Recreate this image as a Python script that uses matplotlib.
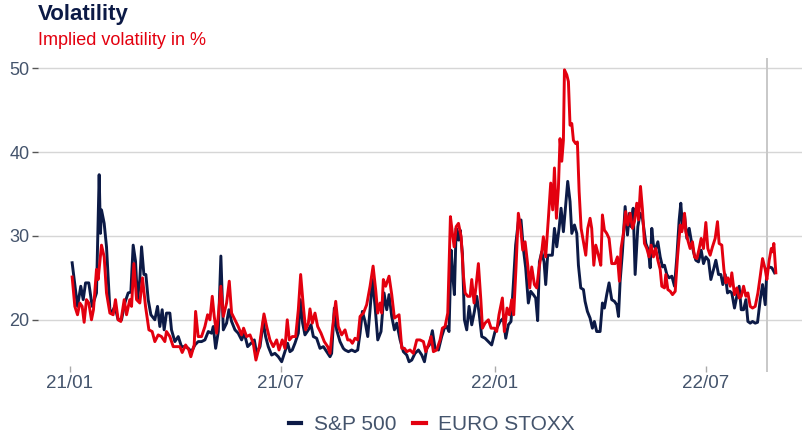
import numpy as np
import pandas as pd
import matplotlib
matplotlib.use("Agg")
import matplotlib.pyplot as plt
import matplotlib.dates as mdates

plt.rcParams['font.family'] = ['Liberation Sans', 'DejaVu Sans']

# days after 2021-01-01 and implied volatility (%)
sp_days = [2.0, 6.6, 9.4, 11.5, 13.5, 16.3, 19.2, 22.9, 25.2, 26.3, 27.2, 29.5, 31.5, 34.4, 35.8, 38.7, 41.5, 44.4,
           47.2, 50.1, 52.4, 54.4, 56.4, 58.1, 60.1, 61.6, 63.6, 65.3, 67.3, 69.6, 73.0, 75.3, 77.3, 79.3, 81.0, 83.0,
           85.9, 87.3, 90.2, 93.1, 95.9, 98.8, 101.7, 104.5, 107.4, 110.2, 113.1,
           116.0, 118.9, 121.7, 123.2, 125.2, 127.5, 129.7, 131.8, 134.6, 136.6, 138.9, 141.8, 144.6, 147.5, 149.8,
           152.7, 155.5, 158.4, 160.4, 163.3, 166.1, 168.1, 170.4, 173.3, 176.1, 179.0, 181.9, 184.7, 187.0, 189.0,
           191.0, 193.3, 196.2, 197.9, 199.9, 201.9, 204.8, 207.1, 209.1, 211.9, 214.8, 217.7, 220.5, 223.4, 224.8,
           227.1, 229.1, 232.0, 234.8,
           236.3, 239.2, 242.0, 244.9, 247.2, 249.2, 251.2, 253.5, 255.8, 257.8, 259.8, 262.1, 264.4, 267.2, 269.8,
           272.1, 274.1, 276.4, 278.7, 280.7, 283.6, 286.4, 289.3, 291.3, 293.6, 296.4, 299.3, 302.2, 304.5, 306.5,
           308.7, 311.3, 313.6, 316.5, 319.3, 321.6, 323.6, 325.6, 327.4, 329.1, 330.2, 331.7, 333.7, 335.1, 337.1,
           338.8, 340.8, 342.8, 345.1, 347.4, 349.4, 351.4, 353.7,
           356.5, 359.4, 362.2, 365.1, 367.4, 369.4, 372.3, 374.3, 376.5, 378.8, 380.8, 382.8, 385.1, 387.4, 389.4,
           391.4, 393.7, 395.7, 398.0, 400.0, 401.7, 403.2, 405.2, 407.2, 408.6, 410.3, 412.3, 414.3, 416.1, 418.1,
           420.1, 421.8, 423.8, 425.8, 427.5, 429.5, 431.0, 433.3, 435.3, 436.7, 438.7, 441.0, 442.4, 444.4, 446.7,
           448.7, 450.4, 452.4, 455.3, 457.3, 459.0, 461.0, 463.0, 465.3, 467.6, 469.6, 471.1, 472.5, 474.5, 476.8,
           478.8, 480.5,
           482.0, 483.7, 485.4, 487.7, 489.7, 491.7, 494.6, 496.8, 498.3, 499.7, 501.1, 503.1, 504.9, 506.9, 508.9,
           510.6, 512.6, 514.6, 516.9, 519.2, 521.2, 523.2, 524.6, 526.1, 527.8, 529.8, 531.8, 533.5, 535.5, 537.5,
           539.8, 542.1, 544.1, 546.1, 548.4, 550.4, 552.7, 554.7, 557.0, 559.0, 560.7, 562.7, 564.7, 566.7, 568.4,
           570.7, 572.7, 574.7, 576.5, 578.5, 580.5, 582.2, 584.2, 586.2, 588.5, 590.5, 592.8, 594.8, 597.1, 598.5,
           600.5, 602.8, 605.1]
sp_vol = [26.8, 21.6, 24.0, 22.4, 24.4, 24.4, 21.6, 23.2, 37.3, 30.3, 33.1, 31.5, 28.7, 21.2, 20.8, 21.6, 20.0, 20.0,
          22.0, 23.2, 23.3, 28.9, 27.0, 22.4, 24.8, 28.7, 25.4, 25.4, 22.4, 20.6, 20.0, 21.6, 19.2, 21.2, 18.8, 20.8,
          20.8, 18.8, 17.4, 18.0, 16.8, 16.8, 16.6, 16.2, 17.0, 17.4, 17.4,
          17.6, 18.6, 18.4, 19.2, 16.6, 18.6, 27.6, 18.8, 19.6, 21.2, 19.8, 18.8, 18.4, 17.6, 18.4,
          16.8, 17.2, 17.6, 16.0, 16.8, 19.8, 18.0, 16.8, 15.8, 16.0, 15.6, 15.0, 16.2, 17.2, 16.2,
          16.4, 17.2, 18.4, 22.4, 19.6, 18.2, 18.8, 19.4, 18.0, 17.8, 16.6, 16.8, 16.2, 15.6, 16.0,
          21.4, 18.8, 17.4, 16.6,
          16.4, 16.2, 16.4, 16.2, 16.4, 18.4, 21.0, 19.8, 18.0, 21.2, 24.8, 21.6, 17.6, 18.6, 23.2,
          21.2, 23.0, 20.4, 18.8, 19.6, 17.6, 16.2, 15.8, 15.0, 15.2, 16.0, 16.4, 15.8, 15.0, 16.6,
          17.0, 18.7, 16.6, 16.4, 18.0, 19.0, 19.2, 18.6, 28.3, 24.8, 23.0, 30.9, 29.5, 30.7, 27.9,
          20.0, 18.8, 21.6, 19.4, 21.0, 22.8, 20.8, 18.0,
          17.8, 17.4, 17.0, 18.6, 19.2, 19.8, 20.2, 17.8, 19.4, 19.8, 24.2, 28.9, 31.7, 31.9, 28.5,
          26.2, 22.0, 23.4, 23.0, 22.6, 19.9, 26.9, 28.1, 26.9, 24.2, 27.7, 27.7, 27.7, 30.9, 28.7,
          30.9, 33.3, 30.5, 33.7, 36.5, 34.1, 30.3, 31.3, 30.3, 26.5, 23.8, 23.6, 22.2, 21.0, 20.2,
          19.0, 19.8, 18.6, 18.6, 22.0, 21.4, 23.0, 24.4, 22.4, 22.2, 21.8, 20.4, 24.6, 28.1, 33.5,
          30.1, 32.7,
          31.1, 33.3, 25.4, 31.1, 32.7, 32.1, 29.1, 28.3, 26.2, 30.9, 28.9, 28.5, 29.3, 27.5, 26.3,
          26.5, 25.4, 25.0, 25.2, 24.0, 27.5, 31.9, 33.9, 31.1, 32.5, 29.7, 30.9, 29.5, 28.1, 27.1,
          26.9, 28.3, 26.7, 27.5, 27.1, 24.8, 26.0, 27.1, 25.4, 25.4, 24.2, 25.4, 23.2, 23.4, 23.2,
          21.4, 22.8, 24.0, 21.2, 21.2, 22.4, 19.8, 19.6, 19.8, 19.6, 19.7, 22.4, 24.2, 21.8, 26.0,
          26.3, 26.2, 25.6]

eu_days = [2.0, 4.3, 6.6, 8.6, 10.6, 12.3, 14.3, 16.3, 18.6, 20.3, 22.9, 24.3, 27.2, 29.5, 31.5, 34.4, 37.2, 39.2,
           41.5, 43.8, 46.7, 48.7, 51.5, 53.0, 55.0, 57.3, 60.1, 62.4, 65.0, 67.9, 70.7, 73.0, 75.9, 78.7, 81.6, 83.0,
           85.9, 88.8, 91.6, 94.5, 96.5, 99.4, 102.2, 103.9, 106.8, 108.0, 110.2, 113.1,
           116.0, 118.3, 120.3, 122.3, 124.0, 126.0, 128.0, 129.7, 131.8, 134.6, 136.9, 138.9, 141.8, 144.6, 147.5,
           149.2, 151.8, 154.7, 157.5, 159.8, 162.7, 164.7, 166.7, 169.0, 171.8, 174.7, 177.6, 179.6, 182.4, 184.7,
           186.7, 188.5, 191.0, 193.9, 196.2, 198.2, 200.5, 202.5, 204.8, 206.2, 208.2, 210.5, 212.8, 215.7, 218.5,
           221.4, 223.4, 225.4, 228.3, 230.5, 233.4,
           236.3, 238.6, 240.6, 242.6, 244.9, 247.2, 249.2, 252.1, 254.9, 257.8, 260.4, 262.6, 264.4, 266.4, 267.8,
           269.2, 271.2, 274.1, 276.4, 278.7, 280.7, 282.7, 285.0, 287.3, 289.3, 292.1, 295.0, 297.9, 300.7, 303.6,
           305.6, 307.9, 310.2, 312.2, 315.0, 317.9, 319.9, 322.2, 324.5, 326.8, 328.5, 330.0, 331.7, 333.7, 336.0,
           338.0, 339.4, 341.7, 343.7, 345.1, 347.1, 348.8, 350.8, 352.9, 354.3,
           356.5, 359.4, 361.7, 364.5, 366.5, 368.5, 371.4, 373.1, 375.4, 377.4, 379.4, 381.1, 383.1, 385.1, 387.1,
           388.9, 390.9, 393.2, 394.9, 396.6, 398.9, 400.9, 402.9, 405.2, 406.6, 408.6, 410.9, 412.9, 414.6, 416.1,
           417.8, 419.5, 420.9, 422.4, 423.8, 424.7, 426.7, 428.1, 429.5, 431.0, 432.4, 434.4, 435.8, 437.3, 439.0,
           441.0, 443.0, 444.7, 446.7, 448.1, 449.9, 451.6, 453.9, 455.9, 457.3, 459.0, 461.0, 463.0, 465.3, 468.2,
           470.2, 471.9, 473.3, 475.3, 477.3, 479.1,
           481.1, 483.1, 484.8, 486.8, 488.3, 490.0, 491.7, 493.4, 495.4, 497.4, 499.1, 501.1, 503.1, 504.9, 506.9,
           508.3, 510.6, 511.7, 513.5, 515.5, 517.5, 519.8, 521.8, 524.1, 525.5, 526.9, 527.8, 528.9, 530.6, 532.6,
           534.6, 536.4, 538.4, 540.4, 542.1, 544.1, 546.1, 547.8, 549.8, 551.8, 554.1, 556.1, 557.5, 559.8, 561.6,
           563.3, 565.0, 567.0, 568.4, 570.7, 572.7, 574.7, 576.5, 578.5, 580.5, 582.2, 584.2, 586.2, 588.5, 590.8,
           592.8, 594.8, 597.1, 598.5, 600.5, 602.3, 603.4, 604.5, 606.2]
eu_vol = [25.1, 21.6, 20.6, 22.0, 21.6, 19.7, 22.4, 22.0, 20.0, 21.2, 26.0, 24.8, 28.9, 27.5, 23.2, 20.8, 20.6, 22.4,
          20.0, 19.8, 22.4, 20.6, 22.4, 21.6, 26.7, 22.4, 22.0, 25.0, 21.6, 18.8, 18.6, 17.4, 18.2, 18.0, 17.4, 18.6,
          18.0, 16.8, 16.8, 16.8, 16.1, 17.0, 16.4, 15.6, 17.0, 21.0, 18.0, 18.0,
          19.2, 20.6, 20.0, 22.8, 20.4, 18.4, 21.2, 24.0, 20.4, 22.0, 24.6, 20.8, 20.0, 19.2, 18.2,
          19.0, 18.0, 18.2, 17.2, 15.2, 16.8, 18.8, 20.7, 19.2, 17.6, 16.8, 17.6, 16.4, 17.6, 16.6,
          20.0, 17.6, 18.0, 18.0, 21.2, 25.4, 21.6, 18.8, 19.6, 21.3, 19.6, 20.8, 19.2, 18.4, 17.4,
          16.8, 16.0, 18.8, 22.2, 19.2, 18.2,
          18.8, 17.6, 17.6, 17.2, 17.8, 17.6, 20.4, 20.8, 21.8, 24.0, 26.4, 23.6, 20.8, 22.0, 20.8,
          24.8, 24.0, 25.2, 23.0, 20.2, 20.4, 20.6, 16.6, 16.6, 16.2, 16.4, 16.0, 17.6, 17.6, 17.4,
          16.2, 17.0, 18.0, 16.2, 16.4, 17.6, 19.0, 19.2, 20.8, 32.3, 30.3, 28.7, 31.1, 31.5, 29.9,
          25.2, 23.2, 22.8, 22.8, 24.8, 22.0, 24.0, 26.7, 22.4, 19.0,
          19.6, 20.0, 19.0, 19.0, 18.6, 20.6, 22.6, 18.6, 21.4, 20.6, 22.4, 20.6, 26.2, 32.7, 30.9,
          28.3, 29.3, 26.5, 23.8, 26.3, 24.2, 23.8, 26.2, 28.1, 29.9, 27.5, 32.1, 36.3, 33.1, 38.1,
          32.1, 35.7, 41.6, 38.9, 41.4, 49.8, 49.2, 48.4, 43.2, 43.4, 41.4, 41.0, 41.2, 35.3, 30.9,
          29.3, 27.7, 30.9, 32.1, 30.9, 26.5, 28.9, 27.7, 26.5, 32.5, 30.7, 30.3, 29.7, 26.7, 26.7,
          27.5, 24.6, 28.5, 30.3, 32.9, 31.3,
          32.7, 30.9, 31.7, 33.9, 31.9, 35.9, 33.1, 29.1, 28.5, 27.5, 28.9, 27.5, 28.5, 27.1, 26.0,
          24.0, 23.8, 25.4, 23.6, 23.4, 23.0, 23.4, 27.5, 31.3, 30.5, 31.5, 32.7, 30.5, 29.5, 28.5,
          29.3, 27.5, 27.3, 28.5, 29.7, 28.5, 31.6, 28.5, 27.7, 28.7, 29.7, 31.7, 29.1, 28.9, 26.0,
          24.4, 25.0, 24.0, 25.6, 23.0, 23.8, 22.6, 22.8, 24.0, 22.8, 23.2, 21.6, 21.4, 21.6, 23.2,
          25.2, 27.3, 26.0, 24.8, 27.1, 28.5, 28.1, 29.1, 25.6]

series_names = ['S&P 500', 'EURO STOXX']
base = pd.Timestamp('2021-01-01')
marker_date = pd.Timestamp('2022-08-23')

navy = '#0c1a46'
red = '#e3000f'
txt = '#44546c'

sp_dates = base + pd.to_timedelta(sp_days, unit='D')
eu_dates = base + pd.to_timedelta(eu_days, unit='D')

fig = plt.figure(figsize=(8.04, 4.40), dpi=100)
ax = fig.add_axes([0.047, 0.155, 0.951, 0.713])

ax.plot(sp_dates, sp_vol, color=navy, lw=2.1, label=series_names[0], zorder=3)
ax.plot(eu_dates, eu_vol, color=red, lw=2.1, label=series_names[1], zorder=4)
ax.axvline(marker_date, color='#c8c8c8', lw=1.4, zorder=2)

ax.set_xlim(base - pd.Timedelta(days=27.5), base + pd.Timedelta(days=629))
ax.set_ylim(13.8, 51.2)
ax.set_yticks([20, 30, 40, 50])
ax.xaxis.set_major_locator(mdates.MonthLocator(bymonth=[1, 7]))
ax.xaxis.set_major_formatter(mdates.DateFormatter('%y/%m'))

ax.grid(axis='y', color='#d6d6d6', lw=1.0)
ax.set_axisbelow(True)
for s in ax.spines.values():
    s.set_visible(False)
ax.tick_params(axis='y', length=4, width=1, color='#555555', labelcolor=txt, labelsize=13, pad=2)
ax.tick_params(axis='x', length=4, width=1, color='#aaaaaa', labelcolor=txt, labelsize=13.5, pad=2,
               direction='in')

fig.text(0.047, 0.966, 'Volatility', color=navy, fontsize=16, fontweight='bold', va='center', ha='left')
fig.text(0.047, 0.908, 'Implied volatility in %', color=red, fontsize=13, va='center', ha='left')

leg = fig.legend(loc='center', bbox_to_anchor=(0.537, 0.035), ncol=2, frameon=False, fontsize=15,
                 handlelength=0.6, handletextpad=0.6, columnspacing=0.8, labelcolor=txt)
for h in leg.legend_handles:
    h.set_linewidth(3)

fig.savefig('out.png', dpi=100)
